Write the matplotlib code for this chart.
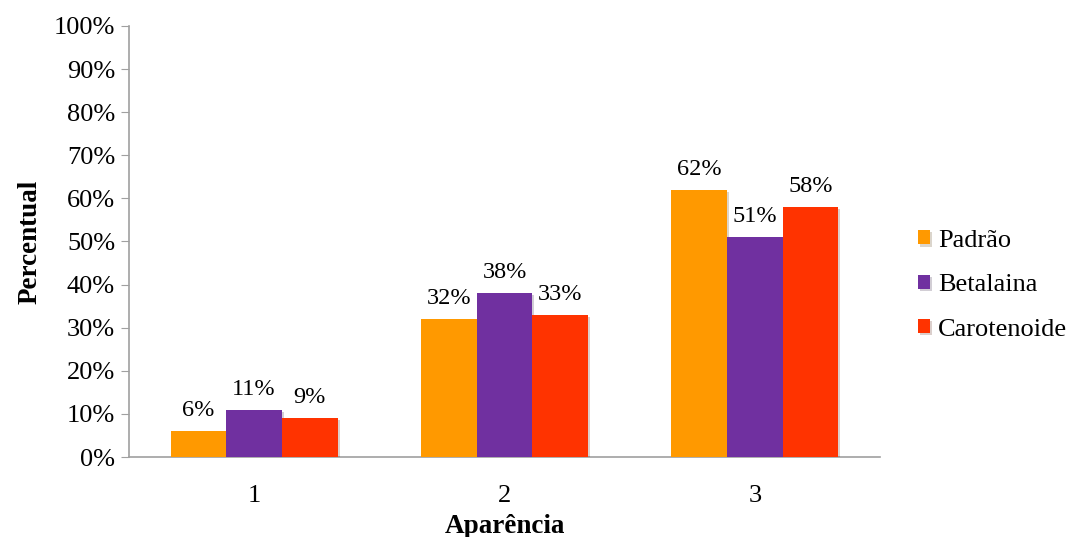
import matplotlib
matplotlib.use("Agg")
import matplotlib.pyplot as plt
import matplotlib.patheffects as pe
import numpy as np

# data
categories = ["1", "2", "3"]
series_names = ["Padrão", "Betalaina", "Carotenoide"]
padrao = [6, 32, 62]
betalaina = [11, 38, 51]
carotenoide = [9, 33, 58]
colors = ["#FF9900", "#7030A0", "#FF3300"]

plt.rcParams['font.family'] = ['Liberation Serif', 'DejaVu Serif']

fig = plt.figure(figsize=(10.72, 5.37), dpi=100)
ax = fig.add_axes([129 / 1072, 1 - 457 / 537, 751 / 1072, 431 / 537])

x = np.arange(len(categories))
w = 0.222
shadow = [pe.SimplePatchShadow(offset=(1.5, -1.5), alpha=0.2), pe.Normal()]
for i, (vals, name) in enumerate(zip([padrao, betalaina, carotenoide], series_names)):
    bars = ax.bar(x + (i - 1) * w, vals, w, color=colors[i], label=name, zorder=3)
    for b in bars:
        b.set_path_effects(shadow)
    for xi, v in zip(x + (i - 1) * w, vals):
        ax.annotate(f"{v}%", (xi, v), xytext=(0, 7), textcoords="offset points",
                    ha="center", va="bottom", fontsize=17.5)

ax.set_xlim(-0.5, 2.5)
ax.set_ylim(0, 100)
ax.set_yticks(np.arange(0, 101, 10))
ax.set_yticklabels([f"{t}%" for t in range(0, 101, 10)], fontsize=19)
ax.set_xticks(x)
ax.set_xticklabels(categories, fontsize=19)
ax.tick_params(axis="x", length=0, pad=20)
ax.tick_params(axis="y", length=6, color="#A0A0A0", pad=4)

for s in ["top", "right"]:
    ax.spines[s].set_visible(False)
for s in ["left", "bottom"]:
    ax.spines[s].set_color("#A0A0A0")
    ax.spines[s].set_linewidth(1.2)

ax.set_ylabel("Percentual", fontsize=19.5, fontweight="bold", labelpad=8)
ax.set_xlabel("Aparência", fontsize=19.5, fontweight="bold", labelpad=5)

ax.legend(loc="center left", bbox_to_anchor=(918 / 1072, 0.469), bbox_transform=fig.transFigure,
          frameon=False, fontsize=19, handlelength=0.46, handleheight=0.46,
          handletextpad=0.3, labelspacing=0.85, borderpad=0, borderaxespad=0)

fig.savefig("out.png", dpi=100)
